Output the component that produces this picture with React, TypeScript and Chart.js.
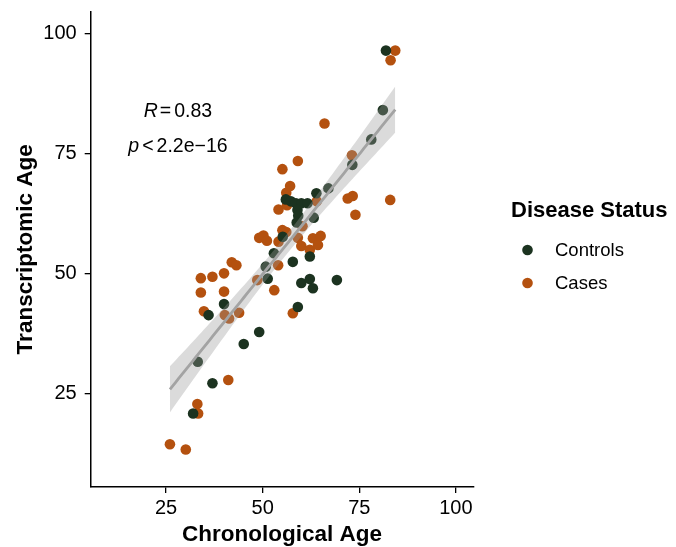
import React, { useEffect, useRef } from "react";
import { Chart, registerables } from "chart.js";

Chart.register(...registerables);

// Controls: chronological age / transcriptomic age
const controlsAge = [
  32.0, 33.2, 37.0, 36.0, 40.0, 45.1, 49.1, 51.3, 50.8, 52.9, 55.2, 57.8, 59.1,
  60.0, 62.2, 63.0, 62.2, 69.2, 56.0, 57.3, 58.6, 60.0, 61.6, 59.0, 59.2, 58.8,
  63.9, 63.2, 67.0, 73.2, 78.1, 81.1, 81.9,
];
const controlsTA = [
  20.8, 31.6, 27.1, 41.3, 43.6, 35.3, 37.8, 48.9, 51.4, 54.2, 57.6, 52.4, 43.0,
  48.0, 48.8, 46.9, 53.5, 48.6, 65.4, 65.0, 64.6, 64.6, 64.6, 63.2, 62.0, 60.6,
  66.7, 61.6, 67.7, 72.6, 77.9, 84.0, 96.4,
];

// Cases
const casesAge = [
  26.0, 30.1, 33.1, 33.3, 41.1, 34.0, 37.0, 40.0, 42.0, 43.2, 34.0, 40.0, 34.8,
  40.2, 41.3, 43.9, 48.6, 49.1, 50.2, 51.1, 53.0, 54.0, 54.1, 55.1, 56.1, 54.1,
  55.1, 56.1, 57.1, 56.3, 59.1, 59.1, 60.0, 57.8, 60.3, 62.2, 63.0, 64.3, 65.0,
  66.0, 64.0, 72.0, 73.3, 73.1, 74.0, 83.1, 84.3, 83.0,
];
const casesTA = [
  14.4, 13.3, 22.8, 20.8, 27.8, 49.0, 49.3, 50.0, 52.3, 51.7, 46.0, 46.2, 42.1,
  41.3, 40.6, 41.8, 48.6, 57.4, 57.9, 56.8, 46.5, 51.7, 56.6, 59.0, 58.6, 63.3,
  71.7, 66.8, 68.2, 64.2, 73.4, 57.4, 55.7, 41.7, 59.8, 54.9, 57.3, 55.9, 57.8,
  81.2, 65.0, 65.6, 66.1, 74.6, 62.2, 94.4, 96.4, 65.3,
];

const tickValues = [25, 50, 75, 100];
const axisMin = 5.5;
const axisMax = 104.5;
const groupLabels = ["Controls", "Cases"];
const groupColors = ["#1c3320", "#b4510f"];
const legendTitle = "Disease Status";
const xTitle = "Chronological Age";
const yTitle = "Transcriptomic Age";
const rLabel = "0.83";
const pLabel = "2.2e\u221216";

const FONT = "'Liberation Sans', Arial, Helvetica, sans-serif";

function linearFit(xs: number[], ys: number[]) {
  const n = xs.length;
  const mx = xs.reduce((s, v) => s + v, 0) / n;
  const my = ys.reduce((s, v) => s + v, 0) / n;
  let sxx = 0;
  let sxy = 0;
  for (let i = 0; i < n; i++) {
    sxx += (xs[i] - mx) ** 2;
    sxy += (xs[i] - mx) * (ys[i] - my);
  }
  const b = sxy / sxx;
  const a = my - b * mx;
  let sse = 0;
  for (let i = 0; i < n; i++) sse += (ys[i] - a - b * xs[i]) ** 2;
  const s = Math.sqrt(sse / (n - 2));
  const t = 1.99;
  const xmin = Math.min(...xs);
  const xmax = Math.max(...xs);
  const line: { x: number; y: number }[] = [];
  const lo: { x: number; y: number }[] = [];
  const hi: { x: number; y: number }[] = [];
  const steps = 80;
  for (let k = 0; k < steps; k++) {
    const x = xmin + ((xmax - xmin) * k) / (steps - 1);
    const y = a + b * x;
    const se = s * Math.sqrt(1 / n + (x - mx) ** 2 / sxx);
    line.push({ x, y });
    lo.push({ x, y: y - t * se });
    hi.push({ x, y: y + t * se });
  }
  return { line, lo, hi };
}

export default function App() {
  const ref = useRef<HTMLCanvasElement | null>(null);

  useEffect(() => {
    if (!ref.current) return;
    const allX = [...controlsAge, ...casesAge];
    const allY = [...controlsTA, ...casesTA];
    const fit = linearFit(allX, allY);

    const controlsPts = controlsAge.map((x, i) => ({ x, y: controlsTA[i] }));
    const casesPts = casesAge.map((x, i) => ({ x, y: casesTA[i] }));

    const overlayPlugin = {
      id: "overlay",
      afterDraw(chart: any) {
        const ctx = chart.ctx as CanvasRenderingContext2D;
        ctx.save();
        // correlation annotation
        ctx.fillStyle = "#000";
        ctx.textBaseline = "middle";
        ctx.textAlign = "left";
        const size = 19.5;
        const italic = `italic ${size}px ${FONT}`;
        const normal = `${size}px ${FONT}`;
        const drawLine = (parts: { t: string; f: string; gap: number }[], cx: number, cy: number) => {
          let total = 0;
          parts.forEach((p) => {
            ctx.font = p.f;
            total += ctx.measureText(p.t).width + p.gap;
          });
          let x = cx - total / 2;
          parts.forEach((p) => {
            ctx.font = p.f;
            ctx.fillText(p.t, x, cy);
            x += ctx.measureText(p.t).width + p.gap;
          });
        };
        drawLine(
          [
            { t: "R", f: italic, gap: 2 },
            { t: "=", f: normal, gap: 3 },
            { t: rLabel, f: normal, gap: 0 },
          ],
          178,
          111.5
        );
        drawLine(
          [
            { t: "p", f: italic, gap: 3 },
            { t: "<", f: normal, gap: 3 },
            { t: pLabel, f: normal, gap: 0 },
          ],
          178,
          146.5
        );

        // legend
        ctx.font = `bold 22px ${FONT}`;
        ctx.fillText(legendTitle, 511, 211);
        ctx.font = `18.5px ${FONT}`;
        groupLabels.forEach((lab, i) => {
          const y = 250 + i * 33;
          ctx.beginPath();
          ctx.fillStyle = groupColors[i];
          ctx.arc(527.5, y, 5.3, 0, Math.PI * 2);
          ctx.fill();
          ctx.fillStyle = "#000";
          ctx.fillText(lab, 555, y + 1);
        });
        ctx.restore();
      },
    };

    const axisCommon = {
      type: "linear" as const,
      min: axisMin,
      max: axisMax,
      afterBuildTicks: (scale: any) => {
        scale.ticks = tickValues.map((v) => ({ value: v }));
      },
      grid: {
        display: true,
        drawOnChartArea: false,
        drawTicks: true,
        tickLength: 6,
        color: "#000",
        lineWidth: 1.3,
      },
      border: { display: true, color: "#000", width: 1.5 },
    };

    const chart = new Chart(ref.current, {
      type: "scatter",
      data: {
        datasets: [
          {
            label: groupLabels[0],
            data: controlsPts,
            backgroundColor: groupColors[0],
            borderWidth: 0,
            pointRadius: 5.3,
            order: 2,
          },
          {
            label: groupLabels[1],
            data: casesPts,
            backgroundColor: groupColors[1],
            borderWidth: 0,
            pointRadius: 5.3,
            order: 3,
          },
          {
            type: "line",
            label: "lower",
            data: fit.lo,
            borderWidth: 0,
            borderColor: "rgba(0,0,0,0)",
            pointRadius: 0,
            fill: false,
            order: 1,
          },
          {
            type: "line",
            label: "upper",
            data: fit.hi,
            borderWidth: 0,
            borderColor: "rgba(0,0,0,0)",
            backgroundColor: "rgba(153,153,153,0.35)",
            pointRadius: 0,
            fill: "-1",
            order: 1,
          },
          {
            type: "line",
            label: "fit",
            data: fit.line,
            borderColor: "#a3a3a3",
            borderWidth: 2.8,
            pointRadius: 0,
            fill: false,
            order: 0,
          },
        ] as any,
      },
      options: {
        responsive: false,
        animation: false,
        layout: { padding: { top: 11.7, right: 202.7, bottom: 0, left: 0 } },
        plugins: {
          legend: { display: false },
          tooltip: { enabled: false },
        },
        scales: {
          x: {
            ...axisCommon,
            afterFit: (scale: any) => {
              scale.height = 60;
              scale.paddingLeft = 0;
              scale.paddingRight = 0;
            },
            ticks: {
              color: "#000",
              padding: 3,
              font: { family: FONT, size: 20 },
              maxRotation: 0,
            },
            title: {
              display: true,
              text: xTitle,
              color: "#000",
              font: { family: FONT, size: 22.5, weight: "bold" },
              padding: { top: 0, bottom: -1.5 },
            },
          },
          y: {
            ...axisCommon,
            afterFit: (scale: any) => {
              scale.width = 90.7;
              scale.paddingTop = 0;
              scale.paddingBottom = 0;
            },
            ticks: {
              color: "#000",
              padding: 8,
              font: { family: FONT, size: 20 },
            },
            title: {
              display: true,
              text: yTitle,
              color: "#000",
              font: { family: FONT, size: 22.5, weight: "bold" },
              padding: { top: 12.5, bottom: 0 },
            },
          },
        },
      } as any,
      plugins: [overlayPlugin],
    });
    return () => chart.destroy();
  }, []);

  return (
    <div style={{ position: "absolute", left: 0, top: 0, width: 676, height: 547, background: "#fff" }}>
      <canvas ref={ref} width={676} height={547} style={{ display: "block" }} />
    </div>
  );
}
